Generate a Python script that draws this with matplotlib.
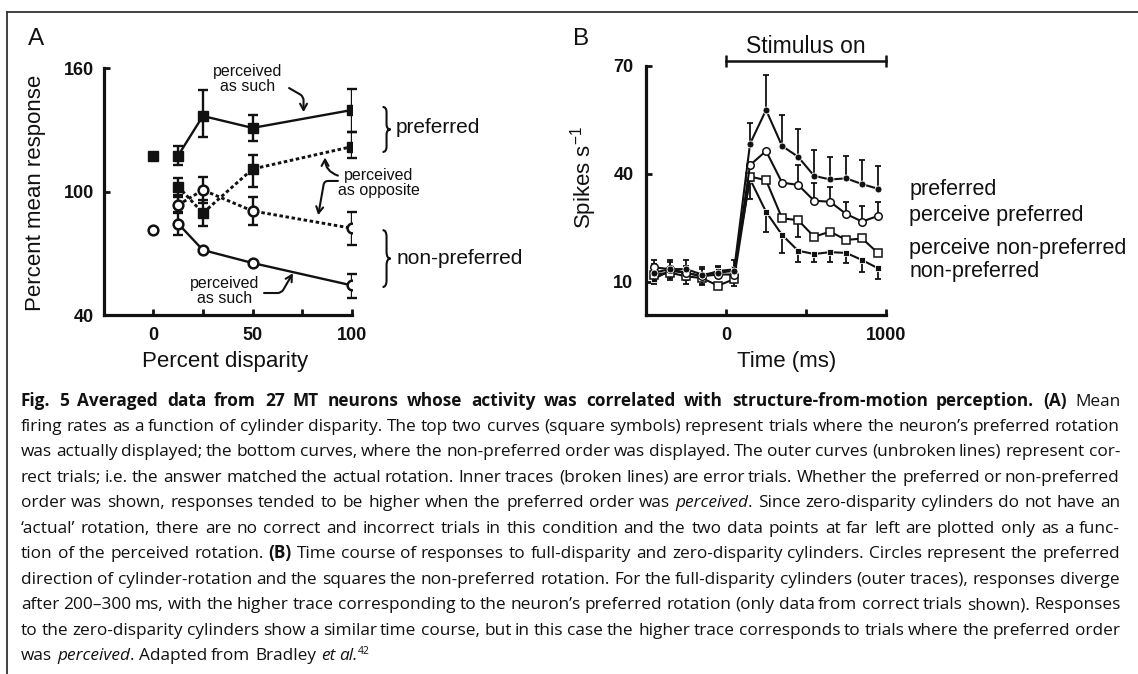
import numpy as np
import matplotlib
matplotlib.use("Agg")
import matplotlib.pyplot as plt
from matplotlib.path import Path
from matplotlib.patches import PathPatch

plt.rcParams['font.family'] = ['Liberation Sans', 'DejaVu Sans']
plt.rcParams['mathtext.default'] = 'regular'

INK = '#111111'
W, H = 1138, 674
CAP_FONT = ['Open Sans', 'DejaVu Sans']

# ---- panel A: percent mean response vs percent disparity
disparity = [12.5, 25, 50, 100]
pref_such = [117.5, 136.8, 131.0, 139.7]
pref_such_lo = [4.4, 10.4, 6.5, 10.5]
pref_such_hi = [4.8, 12.7, 6.5, 10.2]
pref_opp = [102.5, 89.6, 111.0, 121.9]
pref_opp_lo = [4.0, 6.5, 8.5, 5.7]
pref_opp_hi = [4.0, 6.3, 6.8, 7.3]
null_such = [84.5, 71.6, 65.3, 54.4]
null_such_lo = [5.6, 0, 0, 6.3]
null_such_hi = [5.6, 0, 0, 5.6]
null_opp = [93.5, 100.8, 90.6, 82.2]
null_opp_lo = [4.0, 6.5, 6.8, 8.2]
null_opp_hi = [4.0, 6.5, 7.0, 8.1]
zero_x = [0]
zero_pref = [117.5]
zero_null = [81.4]

# ---- panel B: time course (spikes/s)
time_ms = [-450, -350, -250, -150, -50, 50, 150, 250, 350, 450, 550, 650, 750, 850, 950]
pref = [12.5, 13.5, 13.5, 12.0, 12.5, 13.0, 48.3, 57.7, 47.7, 44.7, 39.4, 38.4, 38.7, 37.1, 35.8]
pref_hi = [2.5, 2.5, 2.5, 2.0, 2.0, 3.0, 5.7, 9.7, 8.6, 7.6, 7.2, 6.3, 6.2, 6.7, 6.3]
perc_pref = [14.0, 13.5, 12.5, 11.5, 12.0, 12.0, 42.4, 46.3, 37.5, 36.9, 32.5, 32.2, 28.8, 26.7, 28.3]
perc_pref_hi = [2, 2, 2, 2, 2, 2, 0, 0, 0, 5.5, 4.8, 4.2, 3.2, 4.3, 3.9]
perc_null = [12.0, 12.5, 11.5, 11.0, 8.9, 10.7, 39.2, 38.2, 27.6, 27.1, 22.5, 23.9, 21.6, 22.0, 17.9]
perc_null_lo = [2, 2, 2, 2, 0, 2, 0, 0, 0, 4.6, 0, 0, 0, 0, 0]
null = [10.8, 13.0, 12.5, 11.5, 13.0, 13.4, 38.5, 29.4, 23.0, 18.6, 17.7, 18.2, 18.0, 16.0, 13.7]
null_lo = [1.5, 2, 2, 2, 2, 2, 5.6, 5.5, 4.9, 3.0, 2.1, 2.6, 2.7, 3.2, 3.0]

CAPTION = [
    "**Fig. 5 Averaged data from 27 MT neurons whose activity was correlated with structure-from-motion perception. (A)** Mean",
    "firing rates as a function of cylinder disparity. The top two curves (square symbols) represent trials where the neuron\u2019s preferred rotation",
    "was actually displayed; the bottom curves, where the non-preferred order was displayed. The outer curves (unbroken lines) represent cor-",
    "rect trials; i.e. the answer matched the actual rotation. Inner traces (broken lines) are error trials. Whether the preferred or non-preferred",
    "order was shown, responses tended to be higher when the preferred order was _perceived_. Since zero-disparity cylinders do not have an",
    "\u2018actual\u2019 rotation, there are no correct and incorrect trials in this condition and the two data points at far left are plotted only as a func-",
    "tion of the perceived rotation. **(B)** Time course of responses to full-disparity and zero-disparity cylinders. Circles represent the preferred",
    "direction of cylinder-rotation and the squares the non-preferred rotation. For the full-disparity cylinders (outer traces), responses diverge",
    "after 200\u2013300 ms, with the higher trace corresponding to the neuron\u2019s preferred rotation (only data from correct trials shown). Responses",
    "to the zero-disparity cylinders show a similar time course, but in this case the higher trace corresponds to trials where the preferred order",
    "was _perceived_. Adapted from Bradley _et al._^42^",
]


def err_bars(ax, x, y, lo, hi, lw, cap, z=2):
    x, y, lo, hi = (np.asarray(v, float) for v in (x, y, lo, hi))
    ax.vlines(x, y - lo, y + hi, color=INK, lw=lw, zorder=z)
    for m, yy in ((hi > 0, y + hi), (lo > 0, y - lo)):
        ax.plot(x[m], yy[m], ls='none', marker='_', ms=cap, mew=lw,
                color=INK, zorder=z, clip_on=False)


def brace(ax, x0, y0, y1, w, lw=1.5):
    ym = (y0 + y1) / 2
    xm = x0 + w * 0.5
    r = (y1 - y0) * 0.12
    verts = [(x0, y1), (xm, y1), (xm, y1 - r), (xm, ym + r),
             (xm, ym), (x0 + w, ym), (xm, ym), (xm, ym - r),
             (xm, y0 + r), (xm, y0), (x0, y0)]
    codes = [Path.MOVETO, Path.CURVE3, Path.CURVE3, Path.LINETO,
             Path.CURVE3, Path.CURVE3, Path.CURVE3, Path.CURVE3,
             Path.LINETO, Path.CURVE3, Path.CURVE3]
    ax.add_patch(PathPatch(Path(verts, codes), fc='none', ec=INK, lw=lw,
                           clip_on=False))


def style_axes(ax):
    for s in ('top', 'right'):
        ax.spines[s].set_visible(False)
    for s in ('left', 'bottom'):
        ax.spines[s].set_linewidth(2.3)
        ax.spines[s].set_color(INK)
    ax.tick_params(direction='in', length=4, width=2, color=INK,
                   labelsize=13, labelcolor=INK)
    for lab in ax.get_xticklabels() + ax.get_yticklabels():
        lab.set_fontweight('bold')


def parse_caption(line):
    words, cur, run = [], [], ''
    bold = ital = sup = False
    i = 0
    while i < len(line):
        if line.startswith('**', i):
            if run:
                cur.append((run, bold, ital, sup))
                run = ''
            bold = not bold
            i += 2
            continue
        c = line[i]
        if c in '_^ ':
            if run:
                cur.append((run, bold, ital, sup))
                run = ''
            if c == '_':
                ital = not ital
            elif c == '^':
                sup = not sup
            elif cur:
                words.append(cur)
                cur = []
        else:
            run += c
        i += 1
    if run:
        cur.append((run, bold, ital, sup))
    if cur:
        words.append(cur)
    return words


def make_words(fig, renderer, words, size):
    placed = []
    for w in words:
        runs = []
        for txt, b, it, sup in w:
            t = fig.text(0, 0, txt, fontsize=size * (0.6 if sup else 1.0),
                         fontweight='bold' if b else 'normal',
                         fontstyle='italic' if it else 'normal',
                         family=CAP_FONT, color=INK, ha='left', va='baseline')
            runs.append((t, sup, t.get_window_extent(renderer).width))
        placed.append(runs)
    p1 = fig.text(0, 0, 'x x', fontsize=size, family=CAP_FONT)
    p2 = fig.text(0, 0, 'xx', fontsize=size, family=CAP_FONT)
    space = p1.get_window_extent(renderer).width - p2.get_window_extent(renderer).width
    p1.remove()
    p2.remove()
    widths = [sum(r[2] for r in runs) for runs in placed]
    return placed, widths, space


fig = plt.figure(figsize=(W / 100, H / 100), dpi=100)
fig.patch.set_facecolor('white')

# outer frame (top and left only)
fig.add_artist(plt.Line2D([7.3 / W, 1], [1 - 11.7 / H] * 2, color='#333333', lw=1.3))
fig.add_artist(plt.Line2D([7.3 / W] * 2, [0, 1 - 11.7 / H], color='#333333', lw=1.3))

# ---------------- panel A
axA = fig.add_axes([103.6 / W, 1 - 315 / H, 248.2 / W, 246.7 / H])
axA.set_xlim(-25, 100)
axA.set_ylim(40, 160)
axA.set_xticks([0, 25, 50, 75, 100])
axA.set_xticklabels(['0', '', '50', '', '100'])
axA.set_yticks([40, 100, 160])
style_axes(axA)
axA.tick_params(axis='x', pad=9)
axA.tick_params(axis='y', pad=7)

dots = (0, (1.2, 0.9))
sq = dict(marker='s', ms=6.5, mfc=INK, mec=INK, color=INK, zorder=4)
ci = dict(marker='o', ms=7, mfc='white', mec=INK, mew=1.8, color=INK, zorder=4)

err_bars(axA, disparity, pref_such, pref_such_lo, pref_such_hi, 1.7, 6.5)
err_bars(axA, disparity, pref_opp, pref_opp_lo, pref_opp_hi, 1.7, 6.5)
err_bars(axA, disparity, null_such, null_such_lo, null_such_hi, 1.7, 6.5)
err_bars(axA, disparity, null_opp, null_opp_lo, null_opp_hi, 1.7, 6.5)
axA.plot(disparity, pref_such, lw=1.7, **sq)
axA.plot(disparity, pref_opp, lw=2.1, ls=dots, **sq)
axA.plot(disparity, null_such, lw=1.7, **ci)
axA.plot(disparity, null_opp, lw=2.1, ls=dots, **ci)
axA.plot(zero_x, zero_pref, ls='none', **sq)
axA.plot(zero_x, zero_null, ls='none', **ci)

ann_kw = dict(fontsize=11.5, color=INK, ha='center', va='center', linespacing=1.05)
arrow = dict(arrowstyle='->,head_length=0.45,head_width=0.25', lw=1.5, color=INK,
             shrinkA=0, shrinkB=0)
axA.text(47.7, 154.8, 'perceived\nas such', **ann_kw)
axA.annotate('', xy=(75.7, 138.7), xytext=(68.4, 150.4),
             arrowprops=dict(connectionstyle='angle,angleA=-30,angleB=90,rad=4', **arrow),
             annotation_clip=False)
axA.text(113.5, 104.2, 'perceived\nas opposite', **ann_kw)
axA.annotate('', xy=(86.5, 116.6), xytext=(93.0, 107.8),
             arrowprops=dict(connectionstyle='arc3,rad=-0.35', **arrow),
             annotation_clip=False)
axA.annotate('', xy=(83.1, 88.6), xytext=(93.0, 105.2),
             arrowprops=dict(connectionstyle='angle,angleA=180,angleB=80,rad=4', **arrow),
             annotation_clip=False)
axA.text(36.1, 51.7, 'perceived\nas such', **ann_kw)
axA.annotate('', xy=(70.3, 60.3), xytext=(55.8, 50.7),
             arrowprops=dict(connectionstyle='angle,angleA=0,angleB=60,rad=4', **arrow),
             annotation_clip=False)

brace(axA, 115.5, 119.3, 141.2, 4)
brace(axA, 115.5, 53.6, 81.3, 4)
axA.text(122.3, 131, 'preferred', fontsize=15, color=INK, ha='left', va='center')
axA.text(122.3, 67.7, 'non-preferred', fontsize=15, color=INK, ha='left', va='center')

fig.text(36 / W, 1 - 193 / H, 'Percent mean response', rotation=90, fontsize=16,
         ha='center', va='center', color=INK)
fig.text(225 / W, 1 - 361 / H, 'Percent disparity', fontsize=16,
         ha='center', va='center', color=INK)
fig.text(28 / W, 1 - 39 / H, 'A', fontsize=17.5, ha='left', va='center', color=INK)

# ---------------- panel B
axB = fig.add_axes([645.9 / W, 1 - 315 / H, 240.3 / W, 249.3 / H])
axB.set_xlim(-500, 1000)
axB.set_ylim(0.75, 70)
axB.set_xticks([0, 500, 1000])
axB.set_xticklabels(['0', '', '1000'])
axB.set_yticks([10, 40, 70])
style_axes(axB)
axB.tick_params(axis='x', pad=9)
axB.tick_params(axis='y', pad=9)

err_bars(axB, time_ms, pref, np.zeros(len(pref)), pref_hi, 1.3, 4.5)
err_bars(axB, time_ms, perc_pref, np.zeros(len(perc_pref)), perc_pref_hi, 1.3, 4.5)
err_bars(axB, time_ms, perc_null, perc_null_lo, np.zeros(len(perc_null)), 1.3, 4.5)
err_bars(axB, time_ms, null, null_lo, np.zeros(len(null)), 1.3, 4.5)
axB.plot(time_ms, null, marker='s', ms=4.8, mfc=INK, mec='white', mew=0.6,
         color=INK, lw=1.5, zorder=4)
axB.plot(time_ms, perc_null, marker='s', ms=5.2, mfc='white', mec=INK, mew=1.1,
         color=INK, lw=1.5, zorder=4)
axB.plot(time_ms, perc_pref, marker='o', ms=5.4, mfc='white', mec=INK, mew=1.1,
         color=INK, lw=1.5, zorder=4)
axB.plot(time_ms, pref, marker='o', ms=5, mfc=INK, mec='white', mew=0.6,
         color=INK, lw=1.5, zorder=4)

# stimulus bar
axB.plot([0, 1000], [71.3, 71.3], color=INK, lw=1.8, clip_on=False)
axB.plot([0, 1000], [71.3, 71.3], ls='none', marker='|', ms=8, mew=1.8,
         color=INK, clip_on=False)
axB.text(500, 75.3, 'Stimulus on', fontsize=16.5, ha='center', va='center', color=INK)

for yy, lab in zip([35.7, 28.5, 19.3, 12.8],
                   ['preferred', 'perceive preferred', 'perceive non-preferred', 'non-preferred']):
    axB.text(1143.8, yy, lab, fontsize=15.5, ha='left', va='center', color=INK)

fig.text(584 / W, 1 - 177 / H, 'Spikes s$^{\u22121}$', rotation=90, fontsize=16,
         ha='center', va='center', color=INK)
fig.text(786.7 / W, 1 - 362 / H, 'Time (ms)', fontsize=16,
         ha='center', va='center', color=INK)
fig.text(573 / W, 1 - 39 / H, 'B', fontsize=17.5, ha='left', va='center', color=INK)

# ---------------- caption, justified between x0 and x1
renderer = fig.canvas.get_renderer()
x0, x1 = 21.0, 1120.0
parsed = [parse_caption(line) for line in CAPTION]

# fit the font size so that a typical line fills the column with normal spacing
natural = []
for words in parsed[:-1]:
    placed, widths, space = make_words(fig, renderer, words, 10)
    natural.append(sum(widths) + space * (len(words) - 1))
    for runs in placed:
        for t, _, _ in runs:
            t.remove()
cap_size = 10 * (x1 - x0) / np.median(natural)

for i, words in enumerate(parsed):
    base = round(405.5 + i * 25.45)
    size = cap_size
    while True:
        placed, widths, space = make_words(fig, renderer, words, size)
        if i == len(parsed) - 1:
            gap = space
            break
        gap = (x1 - x0 - sum(widths)) / (len(words) - 1)
        if gap >= 0.6 * space:
            break
        for runs in placed:
            for t, _, _ in runs:
                t.remove()
        size *= 0.99
    x = x0
    for runs, wd in zip(placed, widths):
        xr = x
        for t, sup, tw in runs:
            yy = base - (6 if sup else 0)
            t.set_position((round(xr) / W, 1 - yy / H))
            xr += tw
        x += wd + gap

fig.savefig('out.png', dpi=100)
